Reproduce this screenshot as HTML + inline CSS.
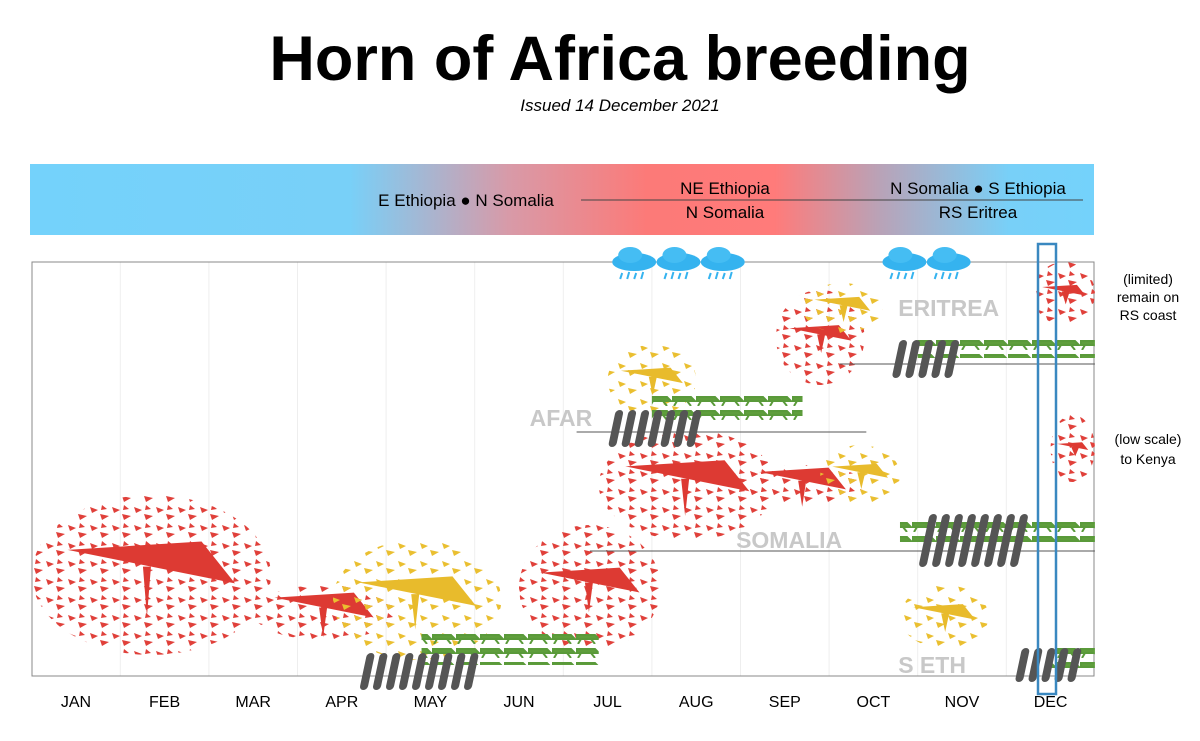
<!DOCTYPE html>
<html><head><meta charset="utf-8"><style>
body{margin:0;background:#fff;font-family:"Liberation Sans",sans-serif}
svg{display:block}
</style></head><body>
<svg id="c" width="1200" height="741" xmlns="http://www.w3.org/2000/svg">
<defs>
<linearGradient id="bg" x1="0" x2="1">
<stop offset="0" stop-color="#74d2fb"/><stop offset="0.3" stop-color="#78d0f8"/>
<stop offset="0.45" stop-color="#d89aa8"/><stop offset="0.58" stop-color="#fc7a78"/>
<stop offset="0.7" stop-color="#ff7b7a"/><stop offset="0.8" stop-color="#b8a3b8"/>
<stop offset="0.92" stop-color="#78d0f8"/><stop offset="1" stop-color="#74d2fb"/>
</linearGradient>
<pattern id="pr" width="22" height="18" patternUnits="userSpaceOnUse">
<path d="M2 3 l8 3 l-6 3z M12 10 l9 2 l-7 4z M14 1 l5 4 l-6 1z" fill="#e0403a"/></pattern>
<pattern id="py" width="22" height="18" patternUnits="userSpaceOnUse">
<path d="M2 3 l8 3 l-6 3z M12 10 l9 2 l-7 4z" fill="#eabf30"/></pattern>
<pattern id="pg" width="24" height="14" patternUnits="userSpaceOnUse">
<path d="M1 5 h18 l4 4 h-22z M5 9 l-3 5 M15 9 l4 5" stroke="#5a9a3a" stroke-width="2" fill="#5f9e3c"/></pattern>
</defs>
<text x="620" y="80" text-anchor="middle" font-size="63" font-weight="bold">Horn of Africa breeding</text>
<text x="620" y="111" text-anchor="middle" font-size="17" font-style="italic">Issued 14 December 2021</text>
<rect x="30" y="164" width="1064" height="71" fill="url(#bg)"/>
<text x="466" y="206" text-anchor="middle" font-size="17">E Ethiopia ● N Somalia</text>
<line x1="581" y1="200" x2="1083" y2="200" stroke="#444" stroke-width="1"/>
<text x="725" y="194" text-anchor="middle" font-size="17">NE Ethiopia</text>
<text x="725" y="218" text-anchor="middle" font-size="17">N Somalia</text>
<text x="978" y="194" text-anchor="middle" font-size="17">N Somalia ● S Ethiopia</text>
<text x="978" y="218" text-anchor="middle" font-size="17">RS Eritrea</text>
<g id="grid"></g>
<rect x="32" y="262" width="1062" height="414" fill="none" stroke="#888"/>
<g id="marks"></g>
<g id="labels"></g>
<rect x="1038" y="244" width="18" height="450" fill="none" stroke="#3a88c0" stroke-width="2.5"/>
<g font-size="14" text-anchor="middle">
<text x="1148" y="284">(limited)</text><text x="1148" y="302">remain on</text><text x="1148" y="320">RS coast</text>
<text x="1148" y="444">(low scale)</text><text x="1148" y="464">to Kenya</text></g>
</svg>
<script>
const months=['JAN','FEB','MAR','APR','MAY','JUN','JUL','AUG','SEP','OCT','NOV','DEC'];
// swarms: [monthStart, monthEnd, yTop, yBottom] (months fractional, 0=Jan centre)
const redSwarms=[[-0.5,2.2,495,655],[2.0,3.6,585,640],[5.0,6.6,525,650],[5.9,7.9,430,540],[7.5,8.9,465,505],[7.9,8.9,290,385],[10.8,11.5,262,325],[11.0,11.5,415,482]];
const yellowSwarms=[[2.9,4.8,540,660],[6.0,7.0,345,415],[8.4,9.3,445,505],[9.3,10.3,585,648],[8.2,9.1,283,333]];
const greenBands=[[3.9,5.9,630,665],[6.5,8.2,395,422],[9.5,11.5,338,358],[9.3,11.5,518,542],[11.0,11.5,645,668]];
const podGroups=[[3.2,4.6,653,690],[6.0,7.1,410,447],[9.2,10.0,340,378],[9.5,10.7,514,567],[10.6,11.4,648,682]];
const rangeLines=[[5.65,8.92,432],[8.62,11.5,364],[5.8,11.5,551]];
const regionNames=['AFAR','ERITREA','SOMALIA','S ETH'];
const regionPos=[[5.12,426],[9.28,316],[7.45,548],[9.28,673]];
const rainMonths=[6.3,6.8,7.3,9.35,9.85];
const X=m=>76+m*88.6;
const NS='http://www.w3.org/2000/svg';
function el(t,a,p){const e=document.createElementNS(NS,t);for(const k in a)e.setAttribute(k,a[k]);document.getElementById(p).appendChild(e);return e;}
for(let i=1;i<12;i++){const g=el('line',{x1:X(i-0.5),x2:X(i-0.5),y1:262,y2:676,stroke:'#eee'},'grid');

}
months.forEach((m,i)=>{const t=el('text',{x:X(i),y:707,'text-anchor':'middle','font-size':16},'labels');t.textContent=m;

});
function blobs(arr,fill,big,name){arr.forEach(s=>{const x1=X(s[0]),x2=X(s[1]);
const e=el('ellipse',{cx:(x1+x2)/2,cy:(s[2]+s[3])/2,rx:(x2-x1)/2,ry:(s[3]-s[2])/2,fill:fill},'marks');


if(big){const w=(x2-x1)*0.35,cx=(x1+x2)/2,cy=(s[2]+s[3])/2;
const b=el('path',{d:`M${cx-w} ${cy-w*0.3} L${cx+w} ${cy+w*0.1} L${cx+w*0.6} ${cy-w*0.4} Z M${cx-w*0.1} ${cy-w*0.1} l4 ${w*0.6} l4 -${w*0.6}z`,fill:big},'marks');

}});}
blobs(redSwarms,'url(#pr)','#dd3a33','red-swarm');
blobs(yellowSwarms,'url(#py)','#e8bb2c','yellow-swarm');
greenBands.forEach(s=>{const r=el('rect',{x:X(s[0]),y:s[2],width:X(s[1])-X(s[0]),height:s[3]-s[2],fill:'url(#pg)'},'marks');

});
podGroups.forEach(s=>{const x1=X(s[0]),x2=X(s[1]),h=s[3]-s[2];const g=el('g',{},'marks');


for(let x=x1;x+8<=x2;x+=13){el('rect',{x:x+h*0.15,y:s[2],width:8,height:h,rx:4,fill:'#555',transform:`skewX(-12) translate(${s[2]*0.21+h*0.1} 0)`},'marks');}});
rangeLines.forEach(s=>{const l=el('line',{x1:X(s[0]),x2:X(s[1]),y1:s[2],y2:s[2],stroke:'#555'},'marks');

});
regionNames.forEach((n,i)=>{const t=el('text',{x:X(regionPos[i][0]),y:regionPos[i][1],'font-size':23,'font-weight':'bold',fill:'#c8c8c8'},'labels');t.textContent=n;

});
rainMonths.forEach(m=>{const cx=X(m);const g=el('g',{},'marks');


g.innerHTML=`<ellipse cx="${cx}" cy="262" rx="22" ry="9" fill="#35b3ef"/><ellipse cx="${cx-4}" cy="255" rx="12" ry="8" fill="#45bdf3"/><path d="M${cx-12} 273 l-2 6 M${cx-5} 272 l-2 7 M${cx+2} 273 l-2 6 M${cx+9} 272 l-2 7" stroke="#35b3ef" stroke-width="2"/>`;});
</script>
</body></html>
